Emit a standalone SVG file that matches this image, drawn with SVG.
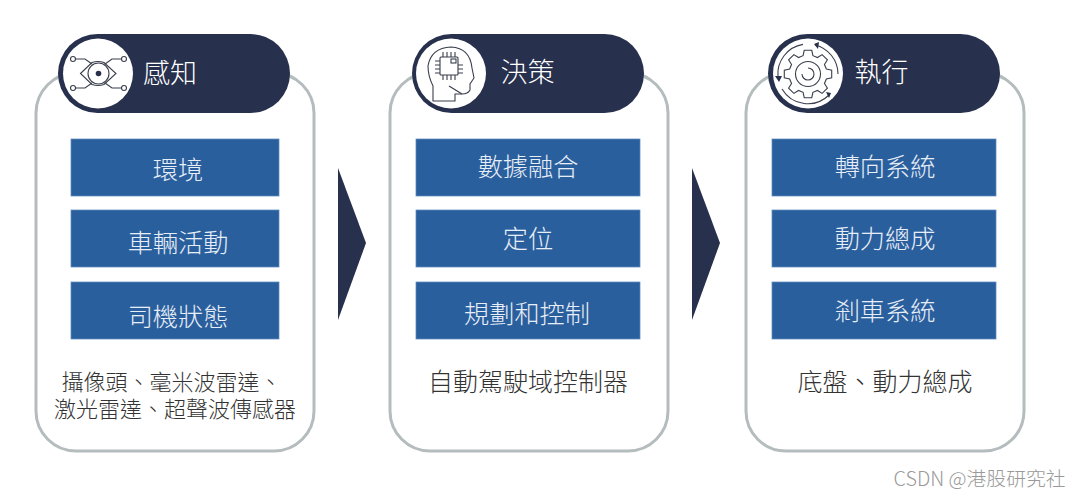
<svg xmlns="http://www.w3.org/2000/svg" width="1080" height="498" viewBox="0 0 1080 498">
<style>
text{font-family:"Noto Sans CJK TC","Noto Sans CJK SC",sans-serif;text-anchor:middle}
.card{fill:#fff;stroke:#b4bcbe;stroke-width:3}
.pill{fill:#27304d}
.disc{fill:#fff}
.box{fill:#2a5f9e;stroke:#5d8abd;stroke-width:.75}
.head{font-size:27px;fill:#fff;font-weight:300}
.lab{font-size:25.2px;fill:#e8eef6;font-weight:300}
.cap{font-size:22px;fill:#333;font-weight:300}
.cap2{font-size:25px;fill:#333;font-weight:300}
.ic{fill:none;stroke:#3a3f4c;stroke-width:1.1}
.tip{fill:#27304d;stroke:none}
.arr{fill:#27304d}
</style>
<rect width="1080" height="498" fill="#fff"/>
<g id="connectors">
<polygon class="arr" points="338,168 366,243 338,320"/>
<polygon class="arr" points="692,168 720,243 692,320"/>
</g>
<g id="node-perception">
<rect class="card" x="36" y="73" width="278" height="378" rx="40"/>
<rect class="pill" x="58" y="34" width="232" height="79" rx="39.5"/>
<circle class="disc" cx="98" cy="73.500" r="35"/>
<g class="ic">
<path d="M80.500 73.500L92 62.500Q98 60.500 104 62.500L116 73.500L104 84.500Q98 86.500 92 84.500Z"/>
<circle cx="98.500" cy="73.500" r="10.500"/>
<circle class="tip" cx="98.500" cy="73.500" r="2.800"/>
<circle cx="73" cy="59" r="2.500"/><circle cx="124" cy="59" r="2.500"/>
<circle cx="73" cy="88" r="2.500"/><circle cx="124" cy="88" r="2.500"/>
<path d="M75.500 59H85L92 64M121.500 59H112L105 64M75.500 88H85L92 83M121.500 88H112L105 83"/>
</g>
<text class="head" x="170" y="83">感知</text>
<rect class="box" x="71" y="139" width="208" height="57"/>
<text class="lab" x="178" y="179">環境</text>
<rect class="box" x="71" y="210" width="208" height="57"/>
<text class="lab" x="178" y="252">車輛活動</text>
<rect class="box" x="71" y="282" width="208" height="57"/>
<text class="lab" x="178" y="326">司機狀態</text>
<text class="cap"><tspan x="171.500" y="390">攝像頭、毫米波雷達、</tspan><tspan x="175" y="417">激光雷達、超聲波傳感器</tspan></text>
</g>
<g id="node-decision">
<rect class="card" x="390" y="73" width="278" height="378" rx="40"/>
<rect class="pill" x="412" y="34" width="232" height="79" rx="39.5"/>
<circle class="disc" cx="451" cy="73.500" r="35"/>
<g class="ic">
<path d="M433 101V86Q428 76 428 66Q431 48 451 47Q470 48 472 68L474 78L470 84V90Q468 94 462 94H455V101Z"/>
<path d="M449 86L462 94"/>
<rect x="440" y="57" width="18" height="18" rx="1"/>
<rect x="451" y="59" width="5" height="4"/>
<path d="M443 57V52M447 57V52M451 57V52M455 57V52M443 75V80M447 75V80M451 75V80M455 75V80M440 61H435M440 65H435M440 69H435M440 73H435M458 65H463M458 69H463M458 73H463"/>
</g>
<text class="head" x="527.500" y="82">決策</text>
<rect class="box" x="416" y="139" width="224" height="57"/>
<text class="lab" x="528" y="176">數據融合</text>
<rect class="box" x="416" y="210" width="224" height="57"/>
<text class="lab" x="528" y="248">定位</text>
<rect class="box" x="416" y="282" width="224" height="57"/>
<text class="lab" x="527" y="323">規劃和控制</text>
<text class="cap2" x="528" y="391">自動駕駛域控制器</text>
</g>
<g id="node-execution">
<rect class="card" x="746" y="73" width="278" height="378" rx="40"/>
<rect class="pill" x="768" y="34" width="232" height="79" rx="39.5"/>
<circle class="disc" cx="808" cy="73.500" r="35"/>
<g class="ic">
<circle cx="808" cy="74" r="12.500"/>
<path d="M802 74A6 6 0 1 0 808 68"/>
<path transform="translate(808,74)" d="M18.35-4.920L23.700-3.750V3.750L18.350 4.920L16.450 9.500L19.420 14.110L14.110 19.420L9.500 16.450L4.920 18.350L3.750 23.700H-3.750L-4.920 18.350L-9.500 16.450L-14.110 19.420L-19.420 14.110L-16.450 9.500L-18.350 4.920L-23.700 3.750V-3.750L-18.350-4.920L-16.450-9.500L-19.420-14.110L-14.110-19.420L-9.500-16.450L-4.920-18.350L-3.750-23.700H3.750L4.920-18.350L9.500-16.450L14.110-19.420L19.420-14.110L16.450-9.500Z"/>
<path d="M803 44.400A30 30 0 0 0 778 77"/>
<path d="M838 74A30 30 0 0 0 815 45"/>
<path d="M782 89A30 30 0 0 0 829 95"/>
<path class="tip" d="M775 76L782 76L779 82ZM814 44L819 42L818 49ZM826 92L831 93L829 98Z"/>
</g>
<text class="head" x="881.500" y="82">執行</text>
<rect class="box" x="772" y="139" width="224" height="57"/>
<text class="lab" x="885" y="176">轉向系統</text>
<rect class="box" x="772" y="210" width="224" height="57"/>
<text class="lab" x="885" y="248">動力總成</text>
<rect class="box" x="772" y="282" width="224" height="57"/>
<text class="lab" x="885" y="320">剎車系統</text>
<text class="cap2" x="885" y="391">底盤、動力總成</text>
</g>
<text x="979.500" y="486" style="font-size:19.8px;fill:#999;font-weight:300">CSDN @港股研究社</text>
</svg>
